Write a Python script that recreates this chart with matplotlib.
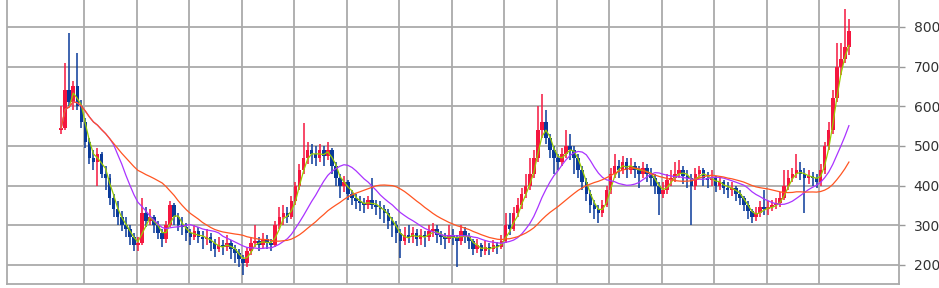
import numpy as np
import pandas as pd
import matplotlib
matplotlib.use('Agg')
import matplotlib.pyplot as plt

#weekly candles (open of each bar = previous close)
first_open = 540
close = [545, 640, 610, 650, 600, 560, 510, 470, 460, 480,
         430, 420, 370, 340, 320, 300, 290, 270, 250, 255,
         330, 310, 320, 300, 280, 265, 300, 350, 320, 300,
         295, 280, 270, 285, 270, 265, 270, 255, 240, 250,
         245, 255, 240, 230, 215, 205, 235, 255, 260, 250,
         265, 255, 250, 300, 320, 330, 320, 360, 400, 440,
         470, 490, 480, 470, 490, 475, 490, 450, 420, 400,
         410, 380, 370, 360, 355, 350, 365, 350, 345, 340,
         330, 310, 300, 280, 260, 275, 270, 280, 265, 275,
         270, 285, 290, 275, 270, 265, 275, 270, 260, 285,
         270, 260, 240, 250, 235, 245, 240, 250, 245, 260,
         300, 290, 330, 350, 380, 400, 430, 470, 540, 560,
         520, 490, 470, 460, 480, 500, 490, 470, 440, 410,
         380, 350, 340, 330, 350, 390, 430, 450, 440, 460,
         440, 450, 440, 430, 445, 430, 420, 400, 380, 390,
         415, 420, 430, 440, 425, 420, 400, 430, 440, 420,
         415, 420, 400, 410, 395, 390, 395, 380, 370, 350,
         335, 320, 330, 345, 340, 345, 350, 355, 370, 400,
         420, 430, 440, 430, 420, 425, 420, 410, 440, 500,
         540, 620, 700, 720, 750, 790]
high = [600, 710, 785, 665, 735, 615, 570, 520, 490, 495,
        485, 450, 430, 380, 360, 335, 320, 300, 280, 270,
        370, 345, 340, 325, 310, 290, 310, 360, 355, 330,
        320, 305, 290, 300, 295, 285, 290, 280, 265, 270,
        262, 275, 262, 250, 240, 225, 245, 270, 300, 270,
        280, 275, 265, 310, 345, 350, 345, 375, 410, 455,
        558, 510, 505, 500, 505, 500, 510, 495, 460, 430,
        425, 415, 390, 380, 375, 368, 375, 420, 365, 360,
        350, 340, 320, 310, 290, 295, 300, 295, 290, 290,
        285, 300, 305, 300, 285, 280, 300, 290, 275, 300,
        295, 280, 265, 265, 255, 260, 255, 262, 258, 275,
        330, 330, 345, 370, 395, 430, 470, 490, 600, 630,
        590, 530, 500, 480, 495, 540, 530, 500, 480, 450,
        420, 390, 365, 350, 365, 400, 445, 480, 465, 475,
        470, 470, 460, 450, 460, 455, 445, 430, 410, 410,
        430, 440, 460, 465, 450, 440, 430, 445, 450, 445,
        435, 440, 425, 425, 415, 410, 410, 400, 390, 375,
        360, 340, 345, 360, 390, 360, 365, 370, 385, 440,
        440, 445, 480, 460, 445, 440, 435, 430, 455, 510,
        560, 640, 760, 760, 845, 820]
low = [530, 540, 600, 590, 590, 545, 495, 455, 440, 400,
       420, 390, 350, 320, 300, 285, 270, 250, 235, 235,
       250, 295, 300, 280, 265, 245, 255, 295, 300, 285,
       275, 260, 250, 262, 255, 240, 250, 235, 220, 232,
       225, 235, 215, 205, 195, 175, 195, 225, 245, 235,
       240, 240, 235, 245, 290, 300, 305, 315, 350, 390,
       430, 455, 455, 450, 460, 450, 465, 430, 400, 370,
       385, 365, 350, 340, 335, 330, 340, 340, 325, 315,
       305, 290, 270, 255, 218, 250, 255, 255, 248, 250,
       245, 260, 270, 255, 250, 240, 255, 250, 195, 250,
       255, 240, 225, 230, 220, 225, 225, 232, 228, 240,
       255, 275, 285, 320, 340, 370, 390, 420, 460, 520,
       505, 470, 430, 440, 450, 470, 465, 430, 420, 390,
       360, 330, 315, 306, 320, 345, 380, 420, 420, 430,
       420, 430, 420, 394, 420, 410, 400, 380, 326, 370,
       380, 400, 410, 420, 405, 395, 301, 390, 420, 400,
       395, 400, 385, 390, 380, 370, 375, 360, 350, 335,
       315, 305, 310, 320, 325, 325, 335, 340, 345, 365,
       390, 410, 420, 415, 330, 405, 400, 395, 400, 430,
       490, 530, 610, 680, 710, 730]

#moving average windows (weeks)
ma_windows = [3, 13, 26]
ma_colors = ['#99cc00', '#aa33ff', '#ff5522']

df = pd.DataFrame({'Close': close, 'High': high, 'Low': low})
df['Open'] = df['Close'].shift(1).fillna(first_open)
x = np.arange(len(df))

up_col = '#f5163f'
down_col = '#0a3a9a'
cols = np.where(df['Close'] >= df['Open'], up_col, down_col)

fig = plt.figure(figsize=(9.39, 2.88), dpi=100)
ax = fig.add_axes([7/939, 4/288, 892/939, 284/288])

#wicks and bodies
ax.vlines(x, df['Low'], df['High'], colors=cols, linewidth=1.1, zorder=2)
body_lo = np.minimum(df['Open'], df['Close'])
body_h = np.maximum(np.abs(df['Close'] - df['Open']), 3)
ax.bar(x, body_h, bottom=body_lo, width=0.88, color=cols, linewidth=0, zorder=3)

#moving averages
for w, c in zip(ma_windows, ma_colors):
    ma = df['Close'].rolling(w, min_periods=1).mean()
    ax.plot(x, ma, color=c, linewidth=0.9, zorder=4)

ax.set_xlim(-13.4, 207.4)
ax.set_ylim(152, 868)
ax.set_xticks(np.arange(5.7, 196, 13))
ax.set_xticklabels([])
ax.set_yticks([200, 300, 400, 500, 600, 700, 800])
ax.yaxis.tick_right()
ax.tick_params(axis='x', length=0)
ax.tick_params(axis='y', length=4.5, width=1, color='#999999', pad=6, labelsize=10, labelcolor='#333333')
ax.grid(True, color='#aaaaaa', linewidth=1.3)
ax.set_axisbelow(True)
for s in ['left', 'right', 'bottom']:
    ax.spines[s].set_color('#aaaaaa')
    ax.spines[s].set_linewidth(1.3)
ax.spines['top'].set_visible(False)

plt.savefig('out.png', dpi=100)
